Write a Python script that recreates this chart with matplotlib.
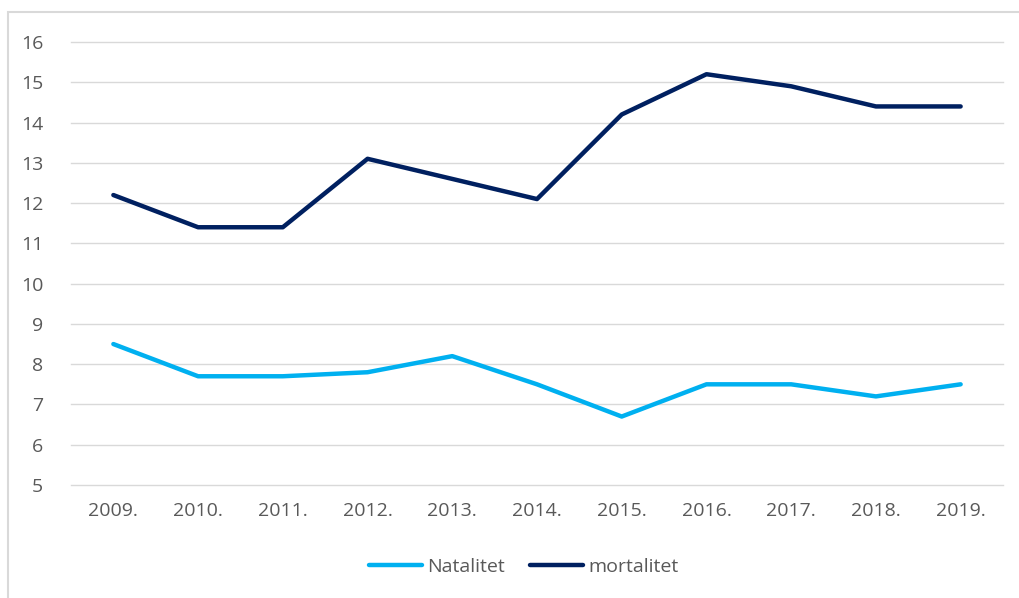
import matplotlib
matplotlib.use("Agg")
import matplotlib.pyplot as plt
from matplotlib.patches import Rectangle

# data
years = ["2009.", "2010.", "2011.", "2012.", "2013.", "2014.",
         "2015.", "2016.", "2017.", "2018.", "2019."]
natalitet = [8.5, 7.7, 7.7, 7.8, 8.2, 7.5, 6.7, 7.5, 7.5, 7.2, 7.5]
mortalitet = [12.2, 11.4, 11.4, 13.1, 12.6, 12.1, 14.2, 15.2, 14.9, 14.4, 14.4]

txt = "#595959"
plt.rcParams['font.family'] = ['Open Sans', 'DejaVu Sans']

fig = plt.figure(figsize=(10.2, 5.98), dpi=100)
W, H = 1020, 598
ax = fig.add_axes([71 / W, 1 - 485 / H, (1003 - 71) / W, (485 - 42) / H])

# outer chart border
fig.patches.append(Rectangle((8 / W, -0.05), 1.2, 1 - 12 / H + 0.05,
                             transform=fig.transFigure, fill=False,
                             edgecolor="#D9D9D9", linewidth=1.5))

x = range(len(years))
ax.plot(x, natalitet, color="#00B0F0", lw=3.2, label="Natalitet",
        solid_capstyle="round", solid_joinstyle="round")
ax.plot(x, mortalitet, color="#002060", lw=3.2, label="mortalitet",
        solid_capstyle="round", solid_joinstyle="round")

ax.set_xlim(-0.5, len(years) - 0.5)
ax.set_ylim(5, 16)
ax.set_yticks(range(5, 17))
ax.set_xticks(list(x))
ax.set_xticklabels(years)
ax.grid(axis="y", color="#D9D9D9", lw=1)
for gl in ax.get_ygridlines():
    gl.set_clip_on(False)
ax.set_axisbelow(True)
for s in ax.spines.values():
    s.set_visible(False)
ax.tick_params(length=0, labelsize=14, colors=txt)
ax.tick_params(axis="x", pad=12)
ax.tick_params(axis="y", pad=20)

leg = fig.legend(loc="center", bbox_to_anchor=(524 / W, 1 - 567 / H), ncol=2,
                 frameon=False, fontsize=14, handlelength=2.7,
                 columnspacing=1.3, handletextpad=0.3)
for t in leg.get_texts():
    t.set_color(txt)

fig.savefig("out.png", dpi=100)
